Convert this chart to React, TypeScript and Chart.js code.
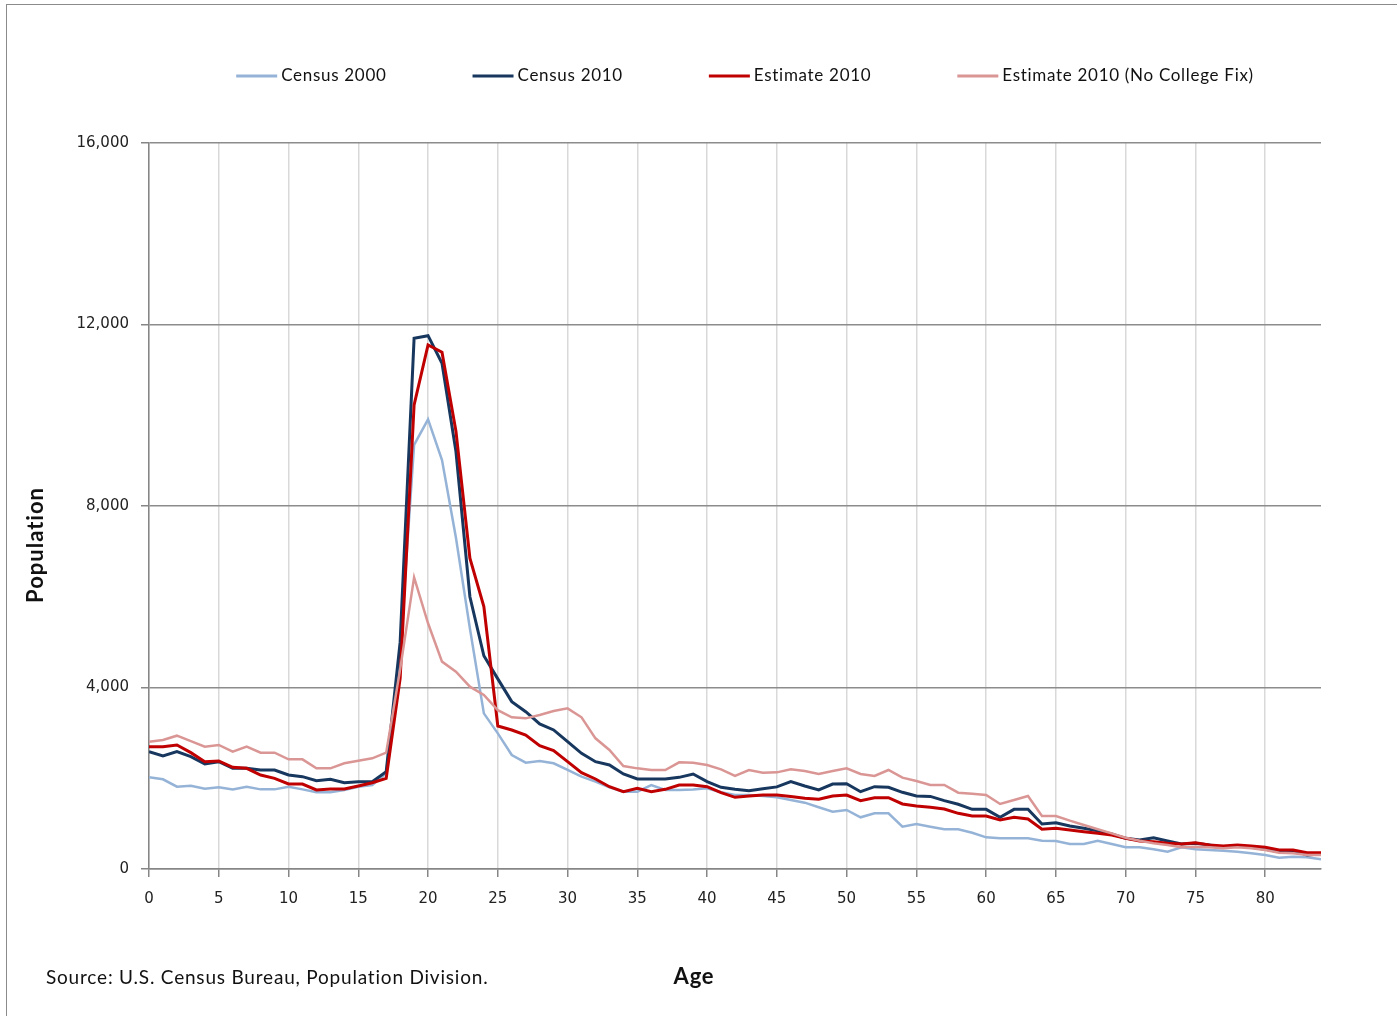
import React, { useEffect, useRef } from "react";
import { Chart, registerables } from "chart.js";

Chart.register(...registerables);

// ---- Data ----
const AGES = [
  0, 1, 2, 3, 4, 5, 6, 7, 8, 9, 10, 11, 12, 13, 14, 15, 16, 17, 18, 19, 20,
  21, 22, 23, 24, 25, 26, 27, 28, 29, 30, 31, 32, 33, 34, 35, 36, 37, 38, 39, 40,
  41, 42, 43, 44, 45, 46, 47, 48, 49, 50, 51, 52, 53, 54, 55, 56, 57, 58, 59, 60,
  61, 62, 63, 64, 65, 66, 67, 68, 69, 70, 71, 72, 73, 74, 75, 76, 77, 78, 79, 80,
  81, 82, 83, 84,
];

const CENSUS_2000 = [
  2020, 1977, 1814, 1836, 1770, 1800, 1750, 1814, 1755, 1755, 1814,
  1755, 1690, 1690, 1740, 1814, 1850, 2110, 4800, 9345, 9911,
  9014, 7300, 5300, 3430, 2990, 2513, 2343, 2380, 2329, 2182,
  2035, 1924, 1800, 1704, 1704, 1851, 1741, 1741, 1750, 1778,
  1690, 1631, 1631, 1610, 1580, 1521, 1462, 1360, 1263, 1300,
  1139, 1227, 1227, 932, 991, 932, 875, 875, 800, 698,
  676, 676, 676, 624, 617, 551, 551, 624, 551, 478,
  478, 433, 382, 478, 433, 419, 404, 382, 345, 309,
  250, 272, 257, 213,
];

const CENSUS_2010 = [
  2586, 2490, 2586, 2475, 2314, 2365, 2219, 2219, 2182, 2182, 2072,
  2035, 1947, 1976, 1902, 1925, 1925, 2145, 5000, 11697, 11754,
  11146, 9200, 6000, 4700, 4190, 3688, 3467, 3196, 3064, 2806,
  2549, 2365, 2292, 2094, 1984, 1984, 1984, 2020, 2094, 1925,
  1800, 1756, 1727, 1770, 1810, 1925, 1829, 1741, 1873, 1880,
  1704, 1814, 1800, 1690, 1609, 1600, 1506, 1426, 1315, 1315,
  1139, 1315, 1315, 991, 1021, 948, 896, 845, 771, 676,
  639, 690, 617, 551, 566, 529, 478, 507, 478, 433,
  382, 404, 309, 330,
];

const ESTIMATE_2010 = [
  2696, 2696, 2733, 2564, 2365, 2380, 2241, 2219, 2072, 1998, 1873,
  1873, 1741, 1763, 1763, 1829, 1902, 1998, 4200, 10227, 11550,
  11388, 9650, 6848, 5782, 3152, 3064, 2953, 2718, 2608, 2365,
  2123, 1984, 1814, 1704, 1778, 1704, 1756, 1851, 1851, 1814,
  1682, 1580, 1610, 1631, 1630, 1600, 1558, 1536, 1609, 1631,
  1506, 1572, 1572, 1433, 1389, 1360, 1322, 1227, 1168, 1168,
  1080, 1139, 1102, 875, 897, 860, 823, 786, 749, 676,
  617, 603, 566, 551, 580, 529, 507, 529, 507, 478,
  419, 419, 360, 360,
];

const ESTIMATE_2010_NO_FIX = [
  2806, 2843, 2938, 2820, 2696, 2733, 2586, 2696, 2564, 2564, 2417,
  2417, 2219, 2219, 2329, 2387, 2439, 2564, 4400, 6429, 5415,
  4570, 4350, 4018, 3835, 3500, 3343, 3320, 3394, 3482, 3541,
  3343, 2880, 2623, 2270, 2218, 2182, 2182, 2351, 2343, 2292,
  2196, 2050, 2182, 2123, 2130, 2196, 2160, 2094, 2160, 2218,
  2094, 2050, 2182, 2013, 1940, 1851, 1851, 1682, 1660, 1631,
  1433, 1521, 1609, 1168, 1168, 1065, 970, 875, 786, 690,
  624, 566, 529, 478, 493, 478, 456, 478, 456, 419,
  360, 345, 309, 309,
];

const SERIES_LABELS = [
  "Census 2000",
  "Census 2010",
  "Estimate 2010",
  "Estimate 2010 (No College Fix)",
];

const X_TICKS = [0, 5, 10, 15, 20, 25, 30, 35, 40, 45, 50, 55, 60, 65, 70, 75, 80];
const Y_TICKS = [0, 4000, 8000, 12000, 16000];

const X_TITLE = "Age";
const Y_TITLE = "Population";
const SOURCE_TEXT = "Source: U.S. Census Bureau, Population Division.";

// ---- Styles ----
const COLORS = ["#95B3D7", "#17375E", "#C00000", "#DA9694"];
const WIDTHS = [2.5, 3, 3, 2.5];

const textPlugin = {
  id: "excelText",
  afterDraw(chart: any) {
    const { ctx, chartArea } = chart;
    ctx.save();
    // Legend
    ctx.font = "17px Lato";
    (ctx as any).letterSpacing = "0.7px";
    ctx.textBaseline = "middle";
    const boxW = 41;
    const gap = 4;
    const spacing = 86;
    const items = chart.data.datasets.map((ds: any) => ({
      text: ds.label,
      color: ds.borderColor,
      w: ctx.measureText(ds.label).width,
    }));
    const total =
      items.reduce((s: number, it: any) => s + boxW + gap + it.w, 0) +
      spacing * (items.length - 1);
    let x = (chartArea.left + chartArea.right) / 2 + 10 - total / 2;
    const ly = 76;
    items.forEach((it: any) => {
      ctx.strokeStyle = it.color;
      ctx.lineWidth = 3;
      ctx.beginPath();
      ctx.moveTo(x, ly);
      ctx.lineTo(x + boxW, ly);
      ctx.stroke();
      x += boxW + gap;
      ctx.fillStyle = "#111";
      ctx.textAlign = "left";
      ctx.fillText(it.text, x, ly);
      x += it.w + spacing;
    });

    // Source
    ctx.font = "19px Lato";
    (ctx as any).letterSpacing = "0.8px";
    ctx.fillStyle = "#111";
    ctx.textAlign = "left";
    ctx.fillText(SOURCE_TEXT, 46, 978);

    // X title
    ctx.font = "bold 22px Lato";
    (ctx as any).letterSpacing = "0.8px";
    ctx.textAlign = "center";
    ctx.fillText(X_TITLE, (chartArea.left + chartArea.right) / 2 - 41, 977);

    // Y title
    ctx.translate(36, (chartArea.top + chartArea.bottom) / 2 + 39);
    ctx.rotate(-Math.PI / 2);
    ctx.font = "bold 22px Lato";
    (ctx as any).letterSpacing = "1px";
    ctx.textAlign = "center";
    ctx.fillText(Y_TITLE, 0, 0);
    ctx.restore();
  },
};

export default function App() {
  const canvasRef = useRef<HTMLCanvasElement | null>(null);

  useEffect(() => {
    if (!canvasRef.current) return;
    const seriesValues = [CENSUS_2000, CENSUS_2010, ESTIMATE_2010, ESTIMATE_2010_NO_FIX];
    const datasets = seriesValues.map((vals, i) => ({
      label: SERIES_LABELS[i],
      data: AGES.map((a, j) => ({ x: a, y: vals[j] })),
      borderColor: COLORS[i],
      backgroundColor: COLORS[i],
      borderWidth: WIDTHS[i],
      pointRadius: 0,
      tension: 0,
      fill: false,
      order: 4 - i,
    }));

    const tickFont = { family: "DejaVu Sans", size: 15 };

    const chart = new Chart(canvasRef.current, {
      type: "line",
      data: { datasets },
      plugins: [textPlugin],
      options: {
        animation: false,
        responsive: false,
        maintainAspectRatio: false,
        layout: { padding: { left: 49, right: 76, top: 143, bottom: 107 } },
        plugins: {
          legend: { display: false },
          tooltip: { enabled: false },
        },
        scales: {
          x: {
            type: "linear",
            min: 0,
            max: 84,
            afterBuildTicks: (s: any) => {
              s.ticks = X_TICKS.map((v) => ({ value: v }));
            },
            afterFit: (s: any) => {
              s.height = 40;
            },
            grid: {
              color: "#D9D9D9",
              lineWidth: 1.5,
              tickColor: "#868686",
              tickLength: 8,
              tickWidth: 1.5,
            },
            border: { color: "#868686", width: 1.5 },
            ticks: {
              font: tickFont,
              color: "#222",
              padding: 13,
              maxRotation: 0,
              autoSkip: false,
              callback: (v: any) => String(v),
            },
          },
          y: {
            type: "linear",
            min: 0,
            max: 16000,
            afterBuildTicks: (s: any) => {
              s.ticks = Y_TICKS.map((v) => ({ value: v }));
            },
            afterFit: (s: any) => {
              s.width = 100;
            },
            grid: {
              color: "#8C8C8C",
              lineWidth: 1.5,
              tickColor: "#868686",
              tickLength: 8,
              tickWidth: 1.5,
            },
            border: { color: "#868686", width: 1.5 },
            ticks: {
              font: tickFont,
              color: "#222",
              padding: 12,
              callback: (v: any) => Number(v).toLocaleString("en-US"),
            },
          },
        },
      } as any,
    });
    return () => chart.destroy();
  }, []);

  return (
    <div
      style={{
        position: "absolute",
        left: 0,
        top: 0,
        width: 1397,
        height: 1016,
        overflow: "hidden",
        background: "#fff",
      }}
    >
      <div
        style={{
          position: "absolute",
          left: 6,
          top: 4,
          width: 1420,
          height: 1040,
          borderLeft: "1px solid #8B8B8B",
          borderTop: "1px solid #8B8B8B",
        }}
      />
      <canvas
        ref={canvasRef}
        width={1397}
        height={1016}
        style={{ position: "absolute", left: 0, top: 0, display: "block" }}
      />
    </div>
  );
}
